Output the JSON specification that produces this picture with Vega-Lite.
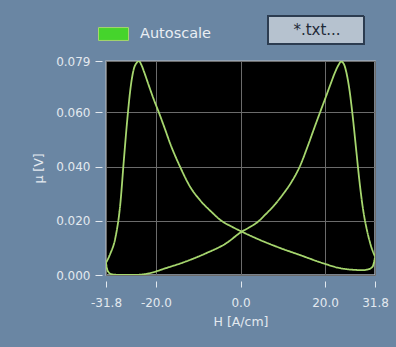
{
  "$schema": "https://vega.github.io/schema/vega-lite/v6.json",
  "width": 269,
  "height": 214,
  "autosize": {"type": "none"},
  "padding": {"left": 106, "top": 61, "right": 21, "bottom": 72},
  "background": "#6a86a3",
  "config": {
    "font": "DejaVu Sans",
    "view": {"fill": "#000000", "stroke": "#a3adb9", "strokeWidth": 1.5}
  },
  "data": {
    "values": [
      {"branch": "up", "H": -31.8, "mu": 0.0045},
      {"branch": "up", "H": -31.4, "mu": 0.0015},
      {"branch": "up", "H": -30.5, "mu": 0.0003},
      {"branch": "up", "H": -28.0, "mu": 0.0000},
      {"branch": "up", "H": -25.5, "mu": 0.0000},
      {"branch": "up", "H": -21.7, "mu": 0.0006},
      {"branch": "up", "H": -17.7, "mu": 0.0025},
      {"branch": "up", "H": -12.9, "mu": 0.0050},
      {"branch": "up", "H": -8.2, "mu": 0.0080},
      {"branch": "up", "H": -3.4, "mu": 0.0117},
      {"branch": "up", "H": 0.3, "mu": 0.0160},
      {"branch": "up", "H": 2.0, "mu": 0.0175},
      {"branch": "up", "H": 4.0, "mu": 0.0195},
      {"branch": "up", "H": 6.0, "mu": 0.0225},
      {"branch": "up", "H": 8.0, "mu": 0.0258},
      {"branch": "up", "H": 10.0, "mu": 0.0297},
      {"branch": "up", "H": 12.0, "mu": 0.0342},
      {"branch": "up", "H": 14.0, "mu": 0.0400},
      {"branch": "up", "H": 16.0, "mu": 0.0480},
      {"branch": "up", "H": 17.5, "mu": 0.0545},
      {"branch": "up", "H": 18.8, "mu": 0.0600},
      {"branch": "up", "H": 20.0, "mu": 0.0650},
      {"branch": "up", "H": 21.3, "mu": 0.0705},
      {"branch": "up", "H": 22.4, "mu": 0.0750},
      {"branch": "up", "H": 23.2, "mu": 0.0776},
      {"branch": "up", "H": 23.8, "mu": 0.0788},
      {"branch": "up", "H": 24.4, "mu": 0.0780},
      {"branch": "up", "H": 25.0, "mu": 0.0750},
      {"branch": "up", "H": 25.7, "mu": 0.0690},
      {"branch": "up", "H": 26.5, "mu": 0.0590},
      {"branch": "up", "H": 27.3, "mu": 0.0470},
      {"branch": "up", "H": 28.1, "mu": 0.0350},
      {"branch": "up", "H": 29.0, "mu": 0.0240},
      {"branch": "up", "H": 29.9, "mu": 0.0165},
      {"branch": "up", "H": 30.8, "mu": 0.0110},
      {"branch": "up", "H": 31.8, "mu": 0.0068},
      {"branch": "down", "H": 31.8, "mu": 0.0065},
      {"branch": "down", "H": 31.2, "mu": 0.0030},
      {"branch": "down", "H": 30.0, "mu": 0.0020},
      {"branch": "down", "H": 29.0, "mu": 0.0018},
      {"branch": "down", "H": 26.0, "mu": 0.0020},
      {"branch": "down", "H": 23.6, "mu": 0.0025},
      {"branch": "down", "H": 19.6, "mu": 0.0043},
      {"branch": "down", "H": 14.0, "mu": 0.0074},
      {"branch": "down", "H": 9.3, "mu": 0.0100},
      {"branch": "down", "H": 4.5, "mu": 0.0130},
      {"branch": "down", "H": 0.3, "mu": 0.0160},
      {"branch": "down", "H": -2.0, "mu": 0.0178},
      {"branch": "down", "H": -4.5, "mu": 0.0200},
      {"branch": "down", "H": -7.0, "mu": 0.0235},
      {"branch": "down", "H": -9.5, "mu": 0.0275},
      {"branch": "down", "H": -12.0, "mu": 0.0328},
      {"branch": "down", "H": -14.3, "mu": 0.0400},
      {"branch": "down", "H": -16.5, "mu": 0.0480},
      {"branch": "down", "H": -18.0, "mu": 0.0545},
      {"branch": "down", "H": -19.3, "mu": 0.0600},
      {"branch": "down", "H": -20.5, "mu": 0.0648},
      {"branch": "down", "H": -21.8, "mu": 0.0705},
      {"branch": "down", "H": -22.8, "mu": 0.0750},
      {"branch": "down", "H": -23.5, "mu": 0.0778},
      {"branch": "down", "H": -24.0, "mu": 0.0790},
      {"branch": "down", "H": -24.6, "mu": 0.0782},
      {"branch": "down", "H": -25.2, "mu": 0.0762},
      {"branch": "down", "H": -26.0, "mu": 0.0690},
      {"branch": "down", "H": -26.8, "mu": 0.0568},
      {"branch": "down", "H": -27.6, "mu": 0.0420},
      {"branch": "down", "H": -28.4, "mu": 0.0265},
      {"branch": "down", "H": -29.6, "mu": 0.0136},
      {"branch": "down", "H": -30.8, "mu": 0.0078},
      {"branch": "down", "H": -31.8, "mu": 0.0045}
    ]
  },
  "mark": {"type": "line", "strokeWidth": 1.8, "clip": true, "interpolate": "monotone"},
  "encoding": {
    "x": {
      "field": "H",
      "type": "quantitative",
      "title": "H [A/cm]",
      "scale": {"domain": [-31.8, 31.8], "nice": false, "zero": false},
      "axis": {
        "values": [-31.8, -20, 0, 20, 31.8],
        "format": ".1f",
        "labelExpr": "replace(datum.label, '\u2212', '-')",
        "labelFlush": false,
        "labelOverlap": false,
        "domain": false,
        "offset": 6,
        "tickSize": 6,
        "tickColor": "#e3e9ef",
        "labelPadding": 10,
        "labelColor": "#e3e9ef",
        "labelFontSize": 12,
        "gridColor": "#6b6b6b",
        "titleColor": "#e3e9ef",
        "titleFontSize": 12.5,
        "titleFontWeight": "normal",
        "titlePadding": 7
      }
    },
    "y": {
      "field": "mu",
      "type": "quantitative",
      "title": "μ [V]",
      "scale": {"domain": [0, 0.079], "nice": false, "zero": false},
      "axis": {
        "values": [0, 0.02, 0.04, 0.06, 0.079],
        "format": ".3f",
        "labelFlush": false,
        "labelOverlap": false,
        "domain": false,
        "offset": 4,
        "tickSize": 7,
        "tickColor": "#e3e9ef",
        "labelPadding": 5,
        "labelColor": "#e3e9ef",
        "labelFontSize": 12,
        "gridColor": "#6b6b6b",
        "titleColor": "#e3e9ef",
        "titleFontSize": 12.5,
        "titleFontWeight": "normal",
        "titlePadding": 10
      }
    },
    "detail": {"field": "branch"},
    "color": {
      "datum": "Autoscale",
      "scale": {"range": ["#a6d66e"]},
      "legend": {
        "orient": "none",
        "legendX": -8,
        "legendY": -42.5,
        "title": null,
        "padding": 0,
        "symbolType": "M-1,-0.43H1V0.43H-1Z",
        "symbolSize": 900,
        "labelColor": "#e9eef3",
        "labelFontSize": 14.5,
        "labelOffset": 11,
        "encode": {
          "symbols": {
            "update": {
              "fill": {"value": "#45d42c"},
              "stroke": {"value": "#2f8f24"},
              "strokeWidth": {"value": 1},
              "opacity": {"value": 1}
            }
          }
        }
      }
    },
    "strokeDash": {
      "datum": "*.txt...",
      "scale": {"range": [[1, 0]]},
      "legend": {
        "orient": "none",
        "legendX": 161,
        "legendY": -80,
        "title": null,
        "padding": 0,
        "symbolType": "M-1,-0.29H1V0.29H-1Z",
        "symbolSize": 9216,
        "symbolFillColor": "#b6c2cf",
        "symbolStrokeColor": "#2c3c50",
        "symbolStrokeWidth": 2,
        "labelColor": "#1f2a38",
        "labelFontSize": 15,
        "labelAlign": "center",
        "labelOffset": -48,
        "encoding": {
          "symbols": {
            "fill": {"value": "#b6c2cf"},
            "stroke": {"value": "#2c3c50"},
            "strokeWidth": {"value": 2},
            "strokeDash": {"value": [1, 0]},
            "opacity": {"value": 1}
          }
        }
      }
    }
  }
}
